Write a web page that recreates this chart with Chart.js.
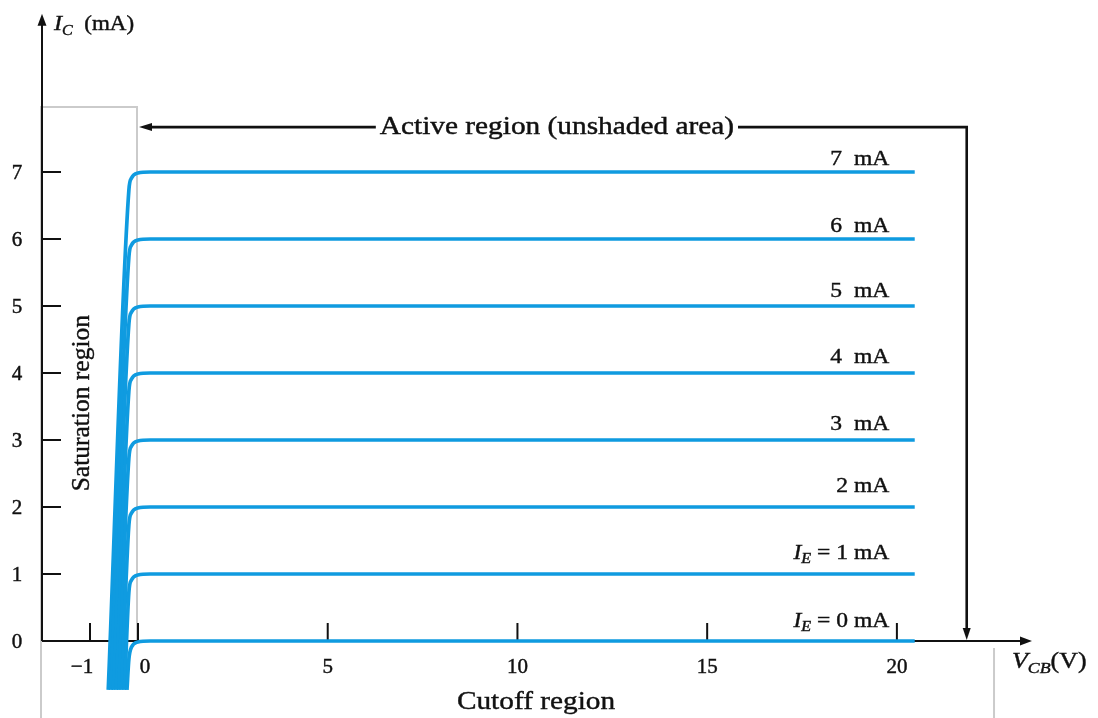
<!DOCTYPE html>
<html>
<head>
<meta charset="utf-8">
<script src="https://cdn.jsdelivr.net/npm/chart.js@4.4.1/dist/chart.umd.min.js"></script>
<style>
  html, body { margin: 0; padding: 0; background: #ffffff; }
  canvas { display: block; }
</style>
</head>
<body>
<canvas id="chart" width="1098" height="718"></canvas>
<script>
// Common-base transistor output characteristics: I_C against V_CB for fixed I_E.

const emitterCurrents = [0, 1, 2, 3, 4, 5, 6, 7];                              // mA, one curve each
const curveLabels = ['I_E = 0 mA', 'I_E = 1 mA', '2 mA', '3  mA', '4  mA', '5  mA', '6  mA', '7  mA'];
const bandStartVcb = [-0.23, -0.28, -0.34, -0.40, -0.45, -0.51, -0.56, -0.62]; // V, foot of each curve
const kneeVcb = [-0.19, -0.135, 0, 0.32, 20.47];                               // V, through the knee to the end

const ic0 = [-0.73, -0.27, -0.09, -0.015, 0, 0];
const ic1 = [-0.73, 0.73, 0.91, 0.985, 1, 1];
const ic2 = [-0.73, 1.73, 1.91, 1.985, 2, 2];
const ic3 = [-0.73, 2.73, 2.91, 2.985, 3, 3];
const ic4 = [-0.73, 3.73, 3.91, 3.985, 4, 4];
const ic5 = [-0.73, 4.73, 4.91, 4.985, 5, 5];
const ic6 = [-0.73, 5.73, 5.91, 5.985, 6, 6];
const ic7 = [-0.73, 6.73, 6.91, 6.985, 7, 7];
const icSeries = [ic0, ic1, ic2, ic3, ic4, ic5, ic6, ic7];

const vcbTicks = [-1, 0, 5, 10, 15, 20];
const vcbTickLabels = ['\u22121', '0', '5', '10', '15', '20'];
const icTicks = [0, 1, 2, 3, 4, 5, 6, 7];
const icTickLabels = ['0', '1', '2', '3', '4', '5', '6', '7'];

// Layout of the figure furniture, in axis units
const NEG_STRETCH = 1.265;     // the negative V_CB side is drawn wider than the positive side
const AXIS_LEFT_V = -2.0;
const X_AXIS_END_V = 23.56;
const Y_AXIS_TOP_I = 9.36;
const SAT_TOP_I = 7.97;
const CUTOFF_RIGHT_V = 22.56;
const ACTIVE_I = 7.67;
const ACTIVE_TEXT_V = 11.04;
const ACTIVE_DROP_V = 21.84;
const LABEL_RIGHT_V = 19.8;
const labelLiftPx = [14, 15, 15, 10, 10, 9, 7, 7];
const xTickLabelShift = [-8, 7, 0, 0, 0, 0];

const SERIF = "'Liberation Serif', 'DejaVu Serif', serif";
const TEXT_WIDEN = 1.15;       // type is set slightly wide
const INK = '#111111';
const CURVE_COLOR = '#0f9be0';
const GREY = '#cbcbcb';

// Linear scale whose negative half is stretched by NEG_STRETCH
class SplitLinearScale extends Chart.LinearScale {
  warp(v) { return v < 0 ? v * NEG_STRETCH : v; }
  getPixelForValue(value) {
    const a = this.warp(this.min), b = this.warp(this.max);
    return this.getPixelForDecimal((this.warp(value) - a) / (b - a));
  }
  getValueForPixel(pixel) {
    const a = this.warp(this.min), b = this.warp(this.max);
    const w = a + this.getDecimalForPixel(pixel) * (b - a);
    return w < 0 ? w / NEG_STRETCH : w;
  }
}
SplitLinearScale.id = 'splitLinear';
SplitLinearScale.defaults = Chart.LinearScale.defaults;
Chart.register(SplitLinearScale);

const datasets = emitterCurrents.map((ie, k) => ({
  label: curveLabels[k],
  data: [bandStartVcb[k], ...kneeVcb].map((v, j) => ({ x: v, y: icSeries[k][j] })),
  borderColor: CURVE_COLOR,
  borderWidth: 3.7,
  borderCapStyle: 'butt',
  borderJoinStyle: 'round',
  pointRadius: 0,
  fill: false,
  cubicInterpolationMode: 'monotone'
}));

// Text helpers: slightly heavy type, optionally set wide
function inkText(ctx, text, x, y) {
  ctx.fillText(text, x, y);
  ctx.strokeText(text, x, y);
}
function runsWidth(ctx, runs) {
  let w = 0;
  runs.forEach(r => { ctx.font = r.font; w += ctx.measureText(r.t).width; });
  return w * TEXT_WIDEN;
}
function drawRuns(ctx, runs, x, y) {
  ctx.save();
  ctx.translate(x, y);
  ctx.scale(TEXT_WIDEN, 1);
  ctx.textAlign = 'left';
  ctx.textBaseline = 'alphabetic';
  let cx = 0;
  runs.forEach(r => {
    ctx.font = r.font;
    inkText(ctx, r.t, cx, r.dy || 0);
    cx += ctx.measureText(r.t).width;
  });
  ctx.restore();
}
function wideText(ctx, text, x, y, widen) {
  ctx.save();
  ctx.translate(x, y);
  ctx.scale(widen, 1);
  inkText(ctx, text, 0, 0);
  ctx.restore();
}
function labelRuns(text, size) {
  const main = size + 'px ' + SERIF;
  if (text.startsWith('I_E')) {
    return [
      { t: 'I', font: 'italic ' + main },
      { t: 'E', font: 'italic ' + Math.round(size * 0.68) + 'px ' + SERIF, dy: 4 },
      { t: text.slice(3), font: main }
    ];
  }
  return [{ t: text, font: main }];
}

function arrowHead(ctx, tx, ty, dir, len, half) {
  ctx.beginPath();
  if (dir === 'up') { ctx.moveTo(tx, ty); ctx.lineTo(tx - half, ty + len); ctx.lineTo(tx + half, ty + len); }
  if (dir === 'down') { ctx.moveTo(tx, ty); ctx.lineTo(tx - half, ty - len); ctx.lineTo(tx + half, ty - len); }
  if (dir === 'right') { ctx.moveTo(tx, ty); ctx.lineTo(tx - len, ty - half); ctx.lineTo(tx - len, ty + half); }
  if (dir === 'left') { ctx.moveTo(tx, ty); ctx.lineTo(tx + len, ty - half); ctx.lineTo(tx + len, ty + half); }
  ctx.closePath();
  ctx.fill();
}

const figureFurniture = {
  id: 'figureFurniture',
  beforeDatasetsDraw(chart) {
    const ctx = chart.ctx;
    const xs = chart.scales.x, ys = chart.scales.y;
    const px = v => xs.getPixelForValue(v), py = i => ys.getPixelForValue(i);
    const x0 = px(AXIS_LEFT_V), yZero = py(0);
    ctx.save();

    // shaded-region borders (saturation and cutoff)
    ctx.strokeStyle = GREY;
    ctx.lineWidth = 2;
    ctx.beginPath();
    ctx.moveTo(x0 - 1, chart.height);
    ctx.lineTo(x0 - 1, py(SAT_TOP_I));
    ctx.lineTo(px(0) - 1, py(SAT_TOP_I));
    ctx.lineTo(px(0) - 1, yZero);
    ctx.moveTo(px(CUTOFF_RIGHT_V), yZero + 7);
    ctx.lineTo(px(CUTOFF_RIGHT_V), chart.height);
    ctx.stroke();

    // axes
    ctx.strokeStyle = INK;
    ctx.fillStyle = INK;
    ctx.lineWidth = 2;
    ctx.beginPath();
    ctx.moveTo(x0, yZero);
    ctx.lineTo(x0, py(Y_AXIS_TOP_I) + 6);
    ctx.moveTo(x0, yZero);
    ctx.lineTo(px(X_AXIS_END_V) - 6, yZero);
    ctx.stroke();
    arrowHead(ctx, x0, py(Y_AXIS_TOP_I), 'up', 12, 4.5);
    arrowHead(ctx, px(X_AXIS_END_V), yZero, 'right', 12, 4.5);

    // tick marks, drawn inward
    ctx.beginPath();
    icTicks.forEach(i => {
      if (i === 0) return;
      ctx.moveTo(x0, py(i));
      ctx.lineTo(x0 + 19, py(i));
    });
    vcbTicks.forEach(v => {
      ctx.moveTo(px(v), yZero);
      ctx.lineTo(px(v), yZero - 18);
    });
    ctx.stroke();

    // tick labels
    ctx.lineWidth = 0.45;
    ctx.font = '21px ' + SERIF;
    ctx.textBaseline = 'middle';
    ctx.textAlign = 'center';
    icTicks.forEach((i, k) => wideText(ctx, icTickLabels[k], 17, py(i) + 1, 1));
    vcbTicks.forEach((v, k) => wideText(ctx, vcbTickLabels[k], px(v) + xTickLabelShift[k], yZero + 26, 1));

    // active-region pointer
    const ay = py(ACTIVE_I);
    ctx.font = '25.5px ' + SERIF;
    const activeText = 'Active region (unshaded area)';
    const tw = ctx.measureText(activeText).width * TEXT_WIDEN;
    const tc = px(ACTIVE_TEXT_V);
    ctx.lineWidth = 2.6;
    ctx.beginPath();
    ctx.moveTo(px(0) + 10, ay);
    ctx.lineTo(tc - tw / 2 - 4, ay);
    ctx.moveTo(tc + tw / 2 + 4, ay);
    ctx.lineTo(px(ACTIVE_DROP_V), ay);
    ctx.lineTo(px(ACTIVE_DROP_V), yZero - 10);
    ctx.stroke();
    arrowHead(ctx, px(0) + 1, ay, 'left', 13, 4);
    arrowHead(ctx, px(ACTIVE_DROP_V), yZero - 1, 'down', 12, 4);
    ctx.lineWidth = 0.45;
    ctx.textAlign = 'center';
    ctx.textBaseline = 'middle';
    wideText(ctx, activeText, tc, ay, TEXT_WIDEN);

    ctx.restore();
  },
  afterDatasetsDraw(chart) {
    const ctx = chart.ctx;
    const xs = chart.scales.x, ys = chart.scales.y;
    const px = v => xs.getPixelForValue(v), py = i => ys.getPixelForValue(i);
    ctx.save();
    ctx.fillStyle = INK;
    ctx.strokeStyle = INK;
    ctx.lineWidth = 0.4;

    // curve labels, right-aligned above each line
    emitterCurrents.forEach((ie, k) => {
      const runs = labelRuns(curveLabels[k], 20.5);
      const w = runsWidth(ctx, runs);
      drawRuns(ctx, runs, px(LABEL_RIGHT_V) - w, py(ie) - labelLiftPx[k]);
    });

    // axis titles
    drawRuns(ctx, [
      { t: 'I', font: 'italic 21px ' + SERIF },
      { t: 'C', font: 'italic 14px ' + SERIF, dy: 5 },
      { t: '  (mA)', font: '20px ' + SERIF }
    ], 54, 30);
    drawRuns(ctx, [
      { t: 'V', font: 'italic 22.5px ' + SERIF },
      { t: 'CB', font: 'italic 15.5px ' + SERIF, dy: 5 },
      { t: '(V)', font: '22.5px ' + SERIF }
    ], 1012, 668);

    // region names
    ctx.font = '25.5px ' + SERIF;
    ctx.textAlign = 'center';
    ctx.textBaseline = 'middle';
    wideText(ctx, 'Cutoff region', px(10.49), py(-0.91), TEXT_WIDEN);
    ctx.save();
    ctx.translate(px(-1.167), py(3.55));
    ctx.rotate(-Math.PI / 2);
    ctx.font = '25.5px ' + SERIF;
    inkText(ctx, 'Saturation region', 0, 0);
    ctx.restore();

    ctx.restore();
  }
};

new Chart(document.getElementById('chart'), {
  type: 'line',
  data: { datasets },
  options: {
    responsive: false,
    animation: false,
    events: [],
    layout: { padding: 0 },
    plugins: { legend: { display: false }, tooltip: { enabled: false } },
    scales: {
      x: { type: 'splitLinear', display: false, min: -2.875, max: 25.3 },
      y: { type: 'linear', display: false, min: -1.149, max: 9.567 }
    }
  },
  plugins: [figureFurniture]
});
</script>
</body>
</html>
